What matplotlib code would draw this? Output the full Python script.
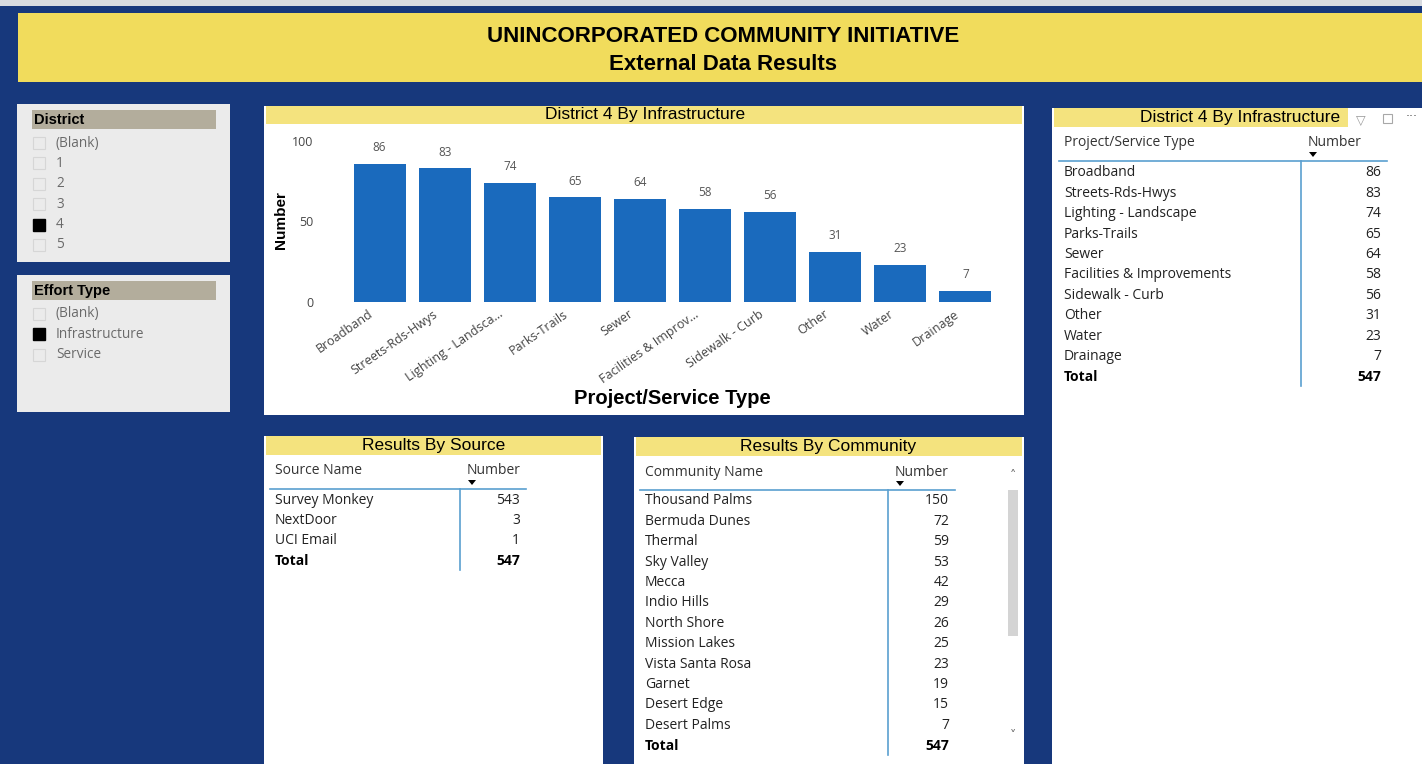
import matplotlib
matplotlib.use("Agg")
import matplotlib.pyplot as plt
from matplotlib.patches import Rectangle, Polygon

infra_types = ["Broadband", "Streets-Rds-Hwys", "Lighting - Landscape", "Parks-Trails", "Sewer",
               "Facilities & Improvements", "Sidewalk - Curb", "Other", "Water", "Drainage"]
infra_tick_labels = ["Broadband", "Streets-Rds-Hwys", "Lighting - Landsca...", "Parks-Trails", "Sewer",
                     "Facilities & Improv...", "Sidewalk - Curb", "Other", "Water", "Drainage"]
infra_counts = [86, 83, 74, 65, 64, 58, 56, 31, 23, 7]

source_names = ["Survey Monkey", "NextDoor", "UCI Email"]
source_counts = [543, 3, 1]

community_names = ["Thousand Palms", "Bermuda Dunes", "Thermal", "Sky Valley", "Mecca", "Indio Hills",
                   "North Shore", "Mission Lakes", "Vista Santa Rosa", "Garnet", "Desert Edge", "Desert Palms"]
community_counts = [150, 72, 59, 53, 42, 29, 26, 25, 23, 19, 15, 7]

total_responses = 547

district_items = ["(Blank)", "1", "2", "3", "4", "5"]
district_selected = "4"
effort_items = ["(Blank)", "Infrastructure", "Service"]
effort_selected = "Infrastructure"

# ---- styling ----
NAVY = "#17387c"
YELLOW = "#f1dc5c"
STRIP = "#f4e37e"
BAR = "#1a6abd"
LINE = "#5a9fd0"
TXT = "#222222"
TABLE_FONT = ["Open Sans", "DejaVu Sans"]
TITLE_FONT = ["Liberation Sans", "DejaVu Sans"]

W, H = 1422, 764
fig = plt.figure(figsize=(W / 100, H / 100), dpi=100)
fig.patch.set_facecolor(NAVY)

bg = fig.add_axes([0, 0, 1, 1])
bg.set_xlim(0, W)
bg.set_ylim(H, 0)
bg.axis("off")


def box(x0, y0, x1, y1, color, **kw):
    bg.add_patch(Rectangle((x0, y0), x1 - x0, y1 - y0, facecolor=color, edgecolor="none", **kw))


# top strip and header banner
box(0, 0, W, 6, "#d8dbe0")
box(18, 13, W, 82, YELLOW)
bg.text(723, 36, "UNINCORPORATED COMMUNITY INITIATIVE", ha="center", va="center",
        fontsize=16, fontweight="bold", family=TITLE_FONT, color="black")
bg.text(723, 64, "External Data Results", ha="center", va="center",
        fontsize=16, fontweight="bold", family=TITLE_FONT, color="black")


# ---- slicers ----
def slicer(y0, y1, title, items, selected):
    box(17, y0, 230, y1, "#ebebeb")
    box(32, y0 + 6, 216, y0 + 25, "#b3ad9c")
    bg.text(34, y0 + 16, title, ha="left", va="center", fontsize=10.5, fontweight="heavy",
            family=TITLE_FONT, color="black")
    for i, item in enumerate(items):
        yc = y0 + 39 + i * 20.4
        if item == selected:
            bg.add_patch(Rectangle((33, yc - 6), 12, 12, facecolor="black", edgecolor="black"))
        else:
            bg.add_patch(Rectangle((33, yc - 6), 12, 12, facecolor="none", edgecolor="#d6d6d6", lw=0.8))
        bg.text(56, yc, item, ha="left", va="center", fontsize=9.8, family=TABLE_FONT, color="#6a6a6a")


slicer(104, 262, "District", district_items, district_selected)
slicer(275, 412, "Effort Type", effort_items, effort_selected)

# ---- bar chart panel ----
box(264, 106, 1024, 415, "white")
box(266, 106, 1022, 124, STRIP)
bg.text(645, 115, "District 4 By Infrastructure", ha="center", va="center", fontsize=12.5,
        family=TITLE_FONT, color="black")
bg.text(281, 220, "Number", ha="center", va="center", rotation=90, fontsize=11,
        fontweight="bold", family=TITLE_FONT, color="black")
bg.text(672, 399, "Project/Service Type", ha="center", va="center", fontsize=14.5,
        fontweight="bold", family=TITLE_FONT, color="black")

ax = fig.add_axes([347 / W, (H - 302) / H, 651 / W, 161 / H])
ax.set_facecolor("none")
xs = list(range(len(infra_counts)))
ax.bar(xs, infra_counts, width=0.8, color=BAR)
for x, v in zip(xs, infra_counts):
    ax.text(x, v + 6, str(v), ha="center", va="bottom", fontsize=8.5, color="#555555",
            family=TABLE_FONT)
ax.set_xlim(-0.5, len(infra_counts) - 0.5)
ax.set_ylim(0, 100)
ax.set_yticks([0, 50, 100])
# labels sit a little left of bar centres, as in Power BI
ax.set_xticks([x - 0.18 for x in xs])
ax.set_xticklabels(infra_tick_labels, rotation=35, ha="right", rotation_mode="anchor",
                   fontsize=9, color="#444444", family=TABLE_FONT)
ax.tick_params(axis="x", length=0, pad=4)
ax.tick_params(axis="y", length=0, pad=24, labelsize=9, labelcolor="#444444")
for lab in ax.get_yticklabels():
    lab.set_family(TABLE_FONT)
for s in ax.spines.values():
    s.set_visible(False)


# ---- tables ----
def table(x0, x1, ytop, title, title_x, col1, names, values, name_x, div_x, val_x, line_x1,
          row_y0, strip_x1=None):
    box(x0, ytop, x1, H, "white")
    box(x0 + 2, ytop, strip_x1 if strip_x1 else x1 - 2, ytop + 19, STRIP)
    bg.text(title_x, ytop + 9.5, title, ha="center", va="center", fontsize=12.5,
            family=TITLE_FONT, color="black")
    hy = ytop + 35
    bg.text(name_x, hy, col1, ha="left", va="center", fontsize=10, family=TABLE_FONT, color="#333333")
    bg.text(div_x + 7, hy, "Number", ha="left", va="center", fontsize=10, family=TABLE_FONT,
            color="#333333")
    ax_x = div_x + 12
    bg.add_patch(Polygon([[ax_x - 4, hy + 9], [ax_x + 4, hy + 9], [ax_x, hy + 14]],
                         closed=True, facecolor="black", edgecolor="none"))
    line_y = ytop + 53
    bg.plot([name_x - 5, line_x1], [line_y, line_y], color=LINE, lw=1.2)
    rows = list(zip(names, values)) + [("Total", total_responses)]
    last_y = row_y0 + (len(rows) - 1) * 20.4
    bg.plot([div_x, div_x], [line_y, last_y + 9], color=LINE, lw=1.2)
    for i, (n, v) in enumerate(rows):
        y = row_y0 + i * 20.4
        bold = n == "Total"
        bg.text(name_x, y, n, ha="left", va="center", fontsize=10, family=TABLE_FONT,
                color="black" if bold else TXT, fontweight="bold" if bold else "normal")
        bg.text(val_x, y, str(v), ha="right", va="center", fontsize=10, family=TABLE_FONT,
                color="black" if bold else TXT, fontweight="bold" if bold else "normal")


table(1052, W, 108, "District 4 By Infrastructure", 1240, "Project/Service Type",
      infra_types, infra_counts, 1064, 1301, 1381, 1387, 173, strip_x1=1348)
bg.text(1361, 120, "\u25bd", ha="center", va="center", fontsize=9, color="#9a9a9a")
bg.add_patch(Rectangle((1383, 114), 9, 9, facecolor="none", edgecolor="#a8a8a8", lw=0.8))
bg.text(1412, 117, "\u00b7\u00b7\u00b7", ha="center", va="center", fontsize=9, color="#555555")

table(264, 603, 436, "Results By Source", 434, "Source Name",
      source_names, source_counts, 275, 460, 520, 526, 500)

table(634, 1024, 437, "Results By Community", 828, "Community Name",
      community_names, community_counts, 645, 888, 949, 955, 501)
# scrollbar
box(1008, 490, 1018, 636, "#d4d4d4")
bg.text(1013, 475, "\u02c4", ha="center", va="center", fontsize=9, color="#666666")
bg.text(1013, 735, "\u02c5", ha="center", va="center", fontsize=9, color="#666666")

fig.savefig("out.png", dpi=100, facecolor=fig.get_facecolor())
